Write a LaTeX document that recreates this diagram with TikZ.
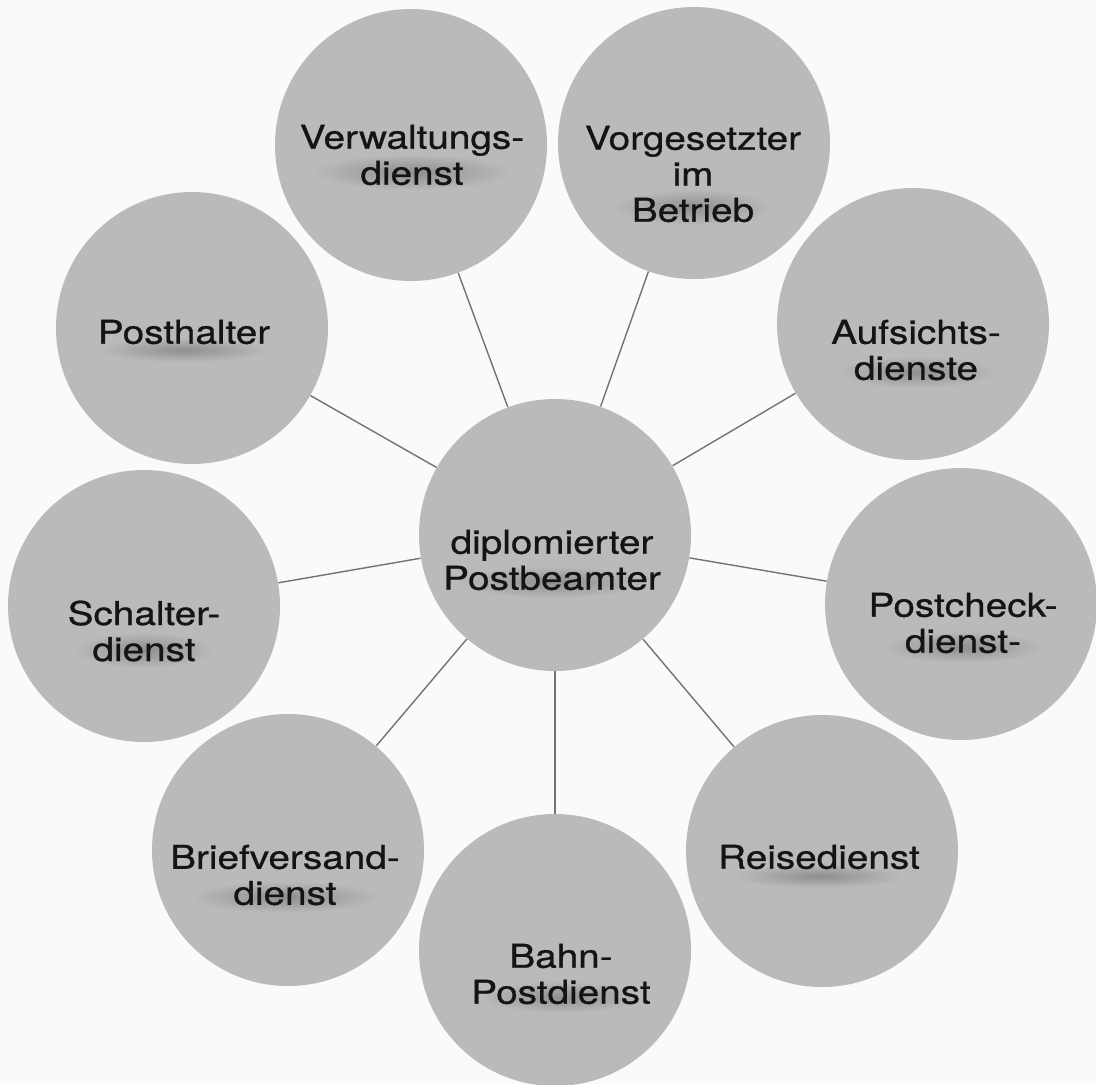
\documentclass[tikz,border=0pt]{standalone}
\usepackage{fontspec}
\setmainfont{TeX Gyre Heros}[FakeBold=0.7]
\begin{document}
\begin{tikzpicture}[x=0.5pt,y=-0.5pt,
  disc/.style={circle, fill=black!27, draw=none, minimum size=136pt, inner sep=0pt},
  lbl/.style={align=center, font=\fontsize{16.4}{18}\selectfont, text=black!92, xscale=1.18, transform shape, inner sep=0pt},
  link/.style={draw=black!55, line width=0.7pt},
  smudge/.style={inner color=black!44, outer color=black!27}
]
\fill[black!2] (0,0) rectangle (1096,1084);
\useasboundingbox (0,0) rectangle (1096,1084);

% circles
\node[disc] (c)     at (555,535) {};
\node[disc] (verw)  at (411,145) {};
\node[disc] (vorg)  at (694,143) {};
\node[disc] (post)  at (192,328) {};
\node[disc] (auf)   at (913,324) {};
\node[disc] (scha)  at (144,606) {};
\node[disc] (pchk)  at (961,604) {};
\node[disc] (brief) at (288,850) {};
\node[disc] (bahn)  at (555,950) {};
\node[disc] (reise) at (822,851) {};

% connectors
\foreach \n in {verw,vorg,post,auf,scha,pchk,brief,bahn,reise}
  \draw[link] (c) -- (\n);

% text smudges
\shade[smudge] (552,582) ellipse (95 and 16);
\shade[smudge] (412,172) ellipse (100 and 18);
\shade[smudge] (693,207) ellipse (80 and 18);
\shade[smudge] (184,350) ellipse (85 and 12);
\shade[smudge] (144,650) ellipse (70 and 18);
\shade[smudge] (916,372) ellipse (80 and 16);
\shade[smudge] (963,647) ellipse (80 and 16);
\shade[smudge] (285,897) ellipse (95 and 16);
\shade[smudge] (561,997) ellipse (80 and 16);
\shade[smudge] (819,876) ellipse (85 and 12);

% labels
\node[lbl] (cT)     at (552,560) {diplomierter\\Postbeamter};
\node[lbl] (verwT)  at (412,155) {Verwaltungs-\\dienst};
\node[lbl] (vorgT)  at (693,174) {Vorgesetzter\\im\\Betrieb};
\node[lbl] (postT)  at (184,332) {Posthalter};
\node[lbl] (schaT)  at (144,631) {Schalter-\\dienst};
\node[lbl] (aufT)   at (916,350) {Aufsichts-\\dienste};
\node[lbl] (pchkT)  at (963,623) {Postcheck-\\dienst-};
\node[lbl] (briefT) at (285,875) {Briefversand-\\dienst};
\node[lbl] (bahnT)  at (561,974) {Bahn-\\Postdienst};
\node[lbl] (reiseT) at (819,857) {Reisedienst};
\end{tikzpicture}
\end{document}
